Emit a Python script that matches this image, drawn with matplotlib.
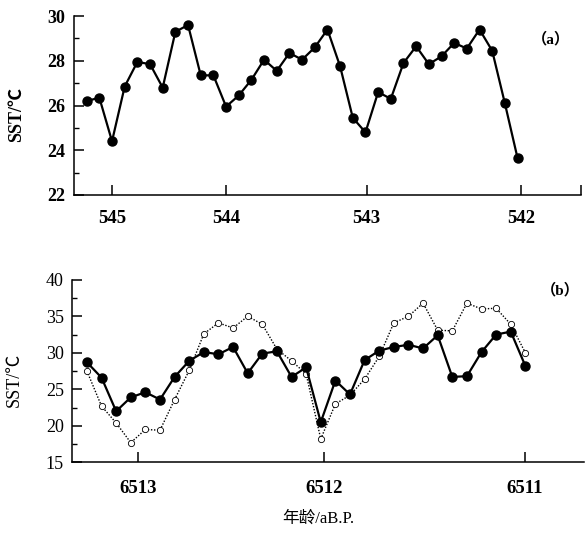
"""
Coral SST records: (a) ~545-542 a B.P., (b) ~6513-6511 a B.P.
Samples are evenly spaced along the growth axis, the age ticks are not.
"""

import matplotlib
matplotlib.use("Agg")
import matplotlib.pyplot as plt
import numpy as np
from matplotlib.ticker import MultipleLocator, FixedLocator

plt.rcParams["font.family"] = ["Liberation Serif", "Noto Sans CJK SC"]

# ---------------------------------------------------------------------------
# Data
# ---------------------------------------------------------------------------

sst_a = [26.2, 26.35, 24.4, 26.85, 27.95, 27.85, 26.8, 29.3, 29.6, 27.35,
         27.35, 25.95, 26.45, 27.15, 28.05, 27.55, 28.35, 28.05, 28.6, 29.4,
         27.75, 25.45, 24.8, 26.6, 26.3, 27.9, 28.65, 27.85, 28.2, 28.8,
         28.55, 29.4, 28.45, 26.1, 23.65]
ticks_a = [2.0, 11.0, 22.1, 34.3]
labels_a = ["545", "544", "543", "542"]

sst_b_solid = [28.7, 26.6, 22.0, 23.9, 24.6, 23.6, 26.7, 28.9, 30.1, 29.8,
               30.8, 27.2, 29.9, 30.2, 26.7, 28.0, 20.5, 26.2, 24.3, 29.0,
               30.3, 30.8, 31.1, 30.6, 32.4, 26.7, 26.8, 30.1, 32.5, 32.9,
               28.2]
sst_b_dotted = [27.5, 22.7, 20.4, 17.7, 19.5, 19.4, 23.6, 27.6, 32.6, 34.1,
                33.4, 35.0, 33.9, 30.5, 28.9, 27.1, 18.2, 23.0, 24.2, 26.4,
                29.5, 34.1, 35.0, 36.8, 33.1, 33.0, 36.8, 36.0, 36.1, 33.9,
                30.0]
ticks_b = [3.48, 16.2, 29.95]
labels_b = ["6513", "6512", "6511"]

# ---------------------------------------------------------------------------
# Figure
# ---------------------------------------------------------------------------

fig = plt.figure(figsize=(5.85, 5.37), dpi=100)
ax_a = fig.add_axes([0.1265, 0.637, 0.8665, 0.333])
ax_b = fig.add_axes([0.1236, 0.139, 0.8744, 0.340])


def _style(ax, xpad, yweight):
    for side in ("top", "right"):
        ax.spines[side].set_visible(False)
    for side in ("left", "bottom"):
        ax.spines[side].set_linewidth(1.1)
    ax.tick_params(axis="both", which="major", direction="in",
                   length=7, width=1.1)
    ax.tick_params(axis="y", which="minor", direction="in",
                   length=3.5, width=1.0)
    ax.tick_params(axis="y", pad=6)
    ax.tick_params(axis="x", pad=xpad)
    for lbl in ax.get_xticklabels():
        lbl.set_fontsize(13.5)
        lbl.set_fontweight("bold")
    for lbl in ax.get_yticklabels():
        lbl.set_fontsize(13)
        lbl.set_fontweight(yweight)


# (a)
x_a = np.arange(len(sst_a))
ax_a.plot(x_a, sst_a, color="black", lw=1.6, marker="o", ms=6.5,
          markerfacecolor="black", markeredgecolor="black")
ax_a.set_xlim(-1.0, 39.0)
ax_a.set_ylim(22, 30)
ax_a.yaxis.set_major_locator(MultipleLocator(2))
ax_a.yaxis.set_minor_locator(MultipleLocator(1))
ax_a.set_xticks(ticks_a)
ax_a.set_xticklabels(labels_a)
ax_a.xaxis.set_minor_locator(FixedLocator([39.0]))
ax_a.tick_params(axis="x", which="minor", direction="in", length=7, width=1.1)
_style(ax_a, xpad=11, yweight="bold")
ax_a.set_ylabel("SST/℃", fontsize=13, fontweight="bold")
ax_a.yaxis.set_label_coords(-0.097, 0.447)
ax_a.text(0.941, 0.872, "（a）", transform=ax_a.transAxes, ha="center",
          va="center", fontsize=11, fontweight="bold")

# (b)
x_b = np.arange(len(sst_b_solid))
ax_b.plot(x_b, sst_b_dotted, color="black", lw=1.0, ls=(0, (1, 1.2)),
          marker="o", ms=4.5, markerfacecolor="white", markeredgecolor="black",
          markeredgewidth=0.6)
ax_b.plot(x_b, sst_b_solid, color="black", lw=1.6, marker="o", ms=6.5,
          markerfacecolor="black", markeredgecolor="black")
ax_b.set_xlim(-1.0, 34.0)
ax_b.set_ylim(15, 40)
ax_b.yaxis.set_major_locator(MultipleLocator(5))
ax_b.yaxis.set_minor_locator(MultipleLocator(2.5))
ax_b.set_xticks(ticks_b)
ax_b.set_xticklabels(labels_b)
_style(ax_b, xpad=13, yweight="normal")
ax_b.set_ylabel("SST/℃", fontsize=13)
ax_b.yaxis.set_label_coords(-0.096, 0.45)
ax_b.text(0.955, 0.945, "（b）", transform=ax_b.transAxes, ha="center",
          va="center", fontsize=11, fontweight="bold")

fig.text(0.544, 0.034, "年龄/aB.P.", ha="center", va="center", fontsize=12)

fig.savefig("out.png", dpi=100)
plt.close(fig)
